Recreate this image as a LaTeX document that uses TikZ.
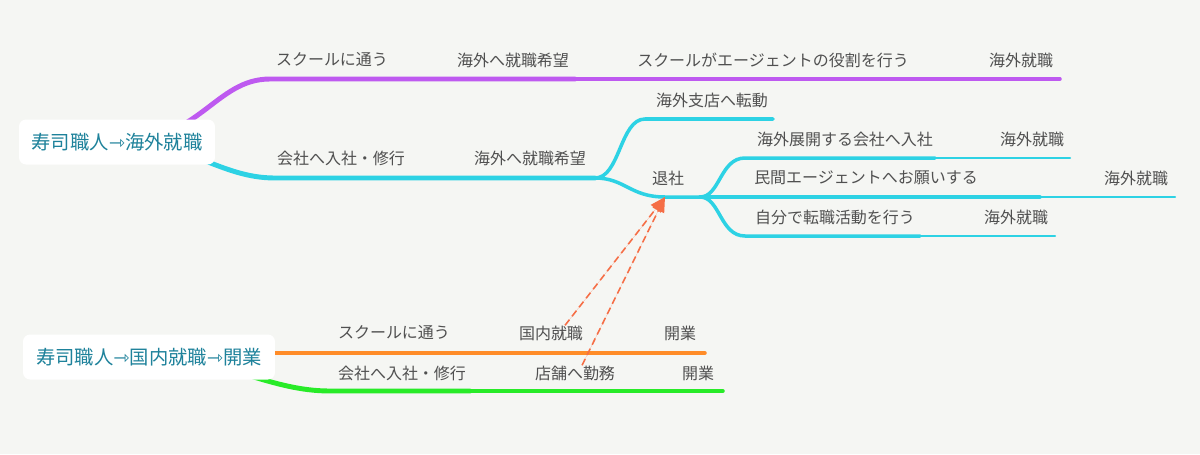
\documentclass[tikz,border=0pt]{standalone}
\usepackage{fontspec}
\setmainfont{Noto Sans CJK JP}
\newfontfamily\arrowfont{DejaVu Sans}
\usetikzlibrary{arrows.meta,backgrounds}

\definecolor{bgcol}{RGB}{245,246,243}
\definecolor{rootteal}{RGB}{30,130,155}
\definecolor{labelgray}{RGB}{80,80,80}
\definecolor{brpurple}{RGB}{190,90,240}
\definecolor{brcyan}{RGB}{45,210,228}
\definecolor{brorange}{RGB}{255,140,40}
\definecolor{brgreen}{RGB}{40,235,40}
\definecolor{linkorange}{RGB}{245,110,70}

\newcommand{\thento}{{\arrowfont ⇾}}

\begin{document}
\begin{tikzpicture}[
  x=0.02cm, y=-0.02cm,
  font=\fontsize{9.1}{11}\selectfont,
  root/.style={fill=white, rounded corners=4pt, text=rootteal, inner sep=0pt,
               minimum height=0.9cm, font=\fontsize{11}{13}\selectfont},
  lbl/.style={text=labelgray, inner sep=0pt},
  thick br/.style={line width=2.8pt, line cap=round},
  mid br/.style={line width=2pt, line cap=round},
  thin br/.style={line width=1.4pt, line cap=round},
  link/.style={-{Triangle[length=3mm,width=2.5mm]}, draw=linkorange, fill=linkorange,
               line width=0.9pt, dash pattern=on 4pt off 2.5pt},
]
  \begin{scope}[on background layer]
    \fill[bgcol] (0,0) rectangle (1200,454);
  \end{scope}
  \useasboundingbox (0,0) rectangle (1200,454);

  % Roots
  \node[root, minimum width=3.92cm] (r1) at (117,142) {寿司職人\thento 海外就職};
  \node[root, minimum width=5.04cm] (r2) at (149,357) {寿司職人\thento 国内就職\thento 開業};

  % Purple branch
  \node[lbl] (p1) at (332,60) {スクールに通う};
  \node[lbl] (p2) at (513,60) {海外へ就職希望};
  \node[lbl] (p3) at (773,60) {スクールがエージェントの役割を行う};
  \node[lbl] (p4) at (1021,60) {海外就職};

  % Cyan branch
  \node[lbl] (c1) at (341,158) {会社へ入社・修行};
  \node[lbl] (c2) at (530,158) {海外へ就職希望};
  \node[lbl] (c3) at (712,100) {海外支店へ転動};
  \node[lbl] (c4) at (668,178) {退社};
  \node[lbl] (c5) at (845,139) {海外展開する会社へ入社};
  \node[lbl] (c6) at (1032,139) {海外就職};
  \node[lbl] (c7) at (866,178) {民間エージェントへお願いする};
  \node[lbl] (c8) at (1136,178) {海外就職};
  \node[lbl] (c9) at (835,217) {自分で転職活動を行う};
  \node[lbl] (c10) at (1016,217) {海外就職};

  % Orange branch
  \node[lbl] (o1) at (394,333) {スクールに通う};
  \node[lbl] (o2) at (551,333) {国内就職};
  \node[lbl] (o3) at (680,333) {開業};

  % Green branch
  \node[lbl] (g1) at (402,373) {会社へ入社・修行};
  \node[lbl] (g2) at (575,373) {店舗へ勤務};
  \node[lbl] (g3) at (698,373) {開業};

  % Branch lines
  \coordinate (pa) at (270,79);
  \coordinate (pb) at (575,79);
  \coordinate (pe) at (1060,79);
  \coordinate (ca) at (275,178);
  \coordinate (cb) at (595,178);
  \coordinate (ts) at (700,197);
  \coordinate (tsend) at (665,197);
  \coordinate (oa) at (200,353);
  \coordinate (ob) at (460,353);
  \coordinate (oe) at (705,353);
  \coordinate (ga) at (330,391);
  \coordinate (gb) at (470,391);
  \coordinate (ge) at (723,391);

  \begin{scope}[on background layer]
    \draw[brpurple, thick br] (r1.center) .. controls (200,142) and (215,79) .. (pa) -- (pb);
    \draw[brpurple, mid br] (pb) -- (pe);

    \draw[brcyan, thick br] (r1.center) .. controls (190,142) and (220,178) .. (ca) -- (cb);
    \draw[brcyan, mid br] (cb) .. controls (620,178) and (620,119) .. (645,119) -- (773,119);
    \draw[brcyan, mid br] (cb) .. controls (625,178) and (630,197) .. (tsend) -- (ts);
    \draw[brcyan, mid br] (ts) .. controls (720,197) and (720,158) .. (745,158) -- (935,158);
    \draw[brcyan, thin br] (935,158) -- (1070,158);
    \draw[brcyan, mid br] (ts) -- (1040,197);
    \draw[brcyan, thin br] (1040,197) -- (1175,197);
    \draw[brcyan, mid br] (ts) .. controls (720,197) and (720,236) .. (745,236) -- (920,236);
    \draw[brcyan, thin br] (920,236) -- (1055,236);

    \draw[brorange, thick br] (r2.center |- oa) -- (ob);
    \draw[brorange, mid br] (ob) -- (oe);

    \draw[brgreen, thick br] (r2.center) .. controls (230,360) and (270,391) .. (ga) -- (gb);
    \draw[brgreen, mid br] (gb) -- (ge);
  \end{scope}

  % Links back to leaving the company
  \draw[link] ([xshift=8pt]o2.north) -- (tsend);
  \draw[link] ([xshift=4pt]g2.north) -- (tsend);
\end{tikzpicture}
\end{document}
